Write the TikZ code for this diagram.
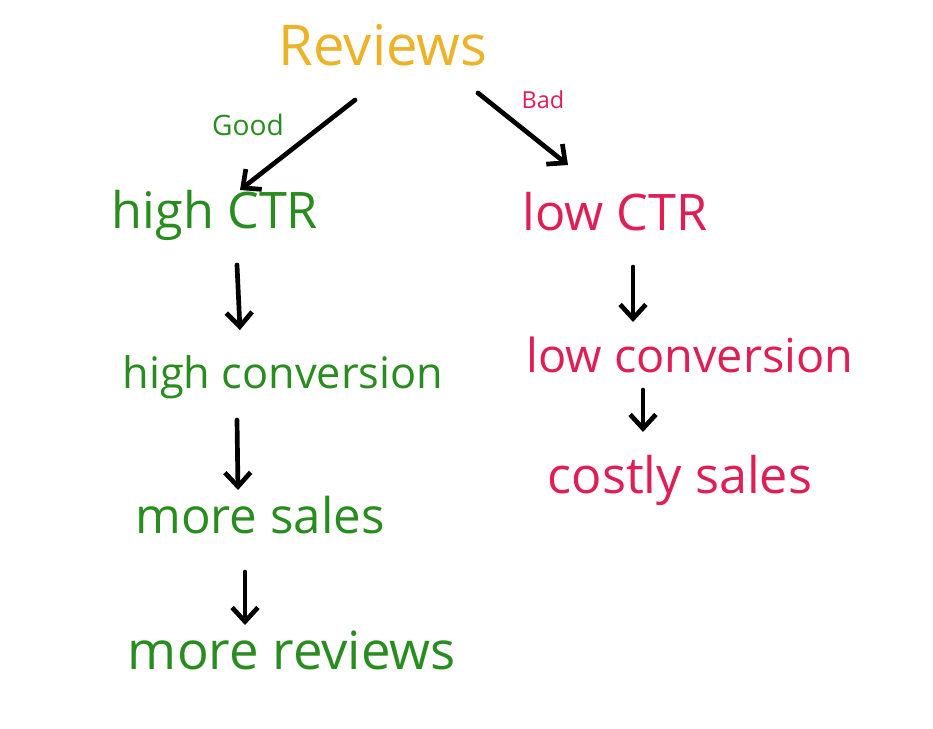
\documentclass[tikz,border=0pt]{standalone}
\usepackage{fontspec}
\setmainfont{Open Sans}
\usetikzlibrary{arrows.meta}
\definecolor{gr}{RGB}{40,140,30}
\definecolor{pk}{RGB}{222,30,85}
\definecolor{yl}{RGB}{236,178,40}
\begin{document}
\begin{tikzpicture}[x=0.03cm,y=-0.03cm,
  lbl/.style={font=\fontsize{40}{44}\selectfont},
  big/.style={font=\fontsize{43}{47}\selectfont},
  g/.style={lbl,text=gr},
  p/.style={lbl,text=pk},
  arr/.style={line width=4pt,line cap=round,-{Straight Barb[length=12pt,width=22pt,line width=4pt]}}]
\useasboundingbox (0,0) rectangle (933,728);
\node[lbl,text=yl,font=\fontsize{48}{52}\selectfont] (rev) at (383,45) {Reviews};
\node[text=gr,font=\fontsize{24}{28}\selectfont] (good) at (248,125) {Good};
\node[text=pk,font=\fontsize{20}{24}\selectfont] (bad) at (543,100) {Bad};
\node[g,big] (hctr) at (215,215) {high CTR};
\node[p,big] (lctr) at (615,212) {low CTR};
\node[g,font=\fontsize{37}{41}\selectfont] (hconv) at (283,377) {high conversion};
\node[g,font=\fontsize{42}{46}\selectfont] (msales) at (260,515) {more sales};
\node[g,font=\fontsize{45}{49}\selectfont] (mrev) at (292,650) {more reviews};
\node[p] (lconv) at (690,355) {low conversion};
\node[p,big] (costly) at (680,480) {costly sales};
\coordinate (a1) at (355,100); \coordinate (b1) at (240,190);
\coordinate (a2) at (478,93); \coordinate (b2) at (568,165);
\coordinate (a3) at (237,265); \coordinate (b3) at (240,330);
\coordinate (a4) at (237,420); \coordinate (b4) at (238,490);
\coordinate (a5) at (245,572); \coordinate (b5) at (245,625);
\coordinate (a6) at (633,267); \coordinate (b6) at (633,322);
\coordinate (a7) at (643,390); \coordinate (b7) at (643,432);
\foreach \i in {1,...,7} \draw[arr] (a\i) -- (b\i);
\end{tikzpicture}
\end{document}
